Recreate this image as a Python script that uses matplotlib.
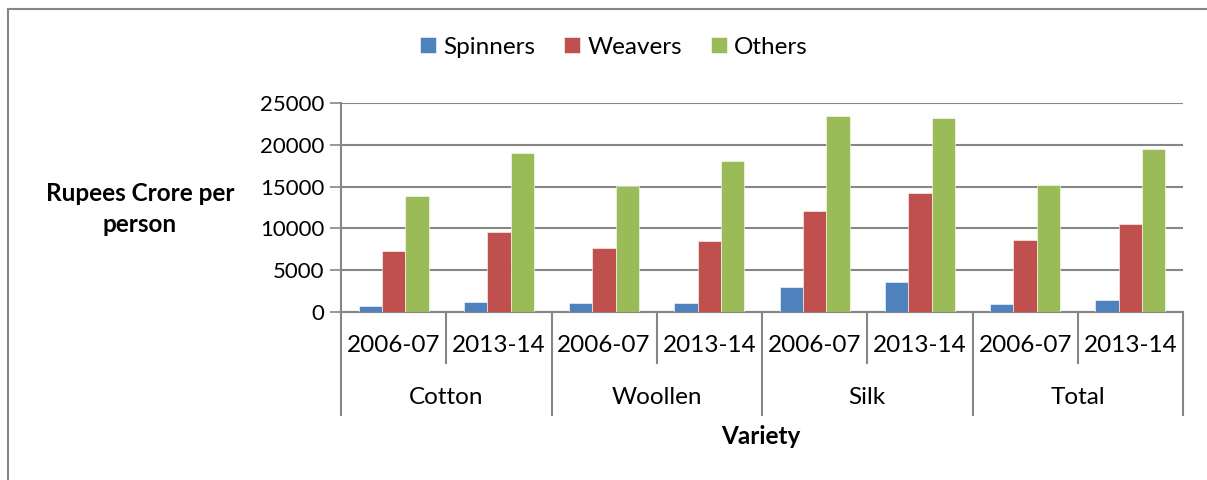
import matplotlib.pyplot as plt
import numpy as np

plt.rcParams['font.family'] = ['Lato', 'DejaVu Sans']

varieties = ['Cotton', 'Woollen', 'Silk', 'Total']
years = ['2006-07', '2013-14']
spinners = [720, 1240, 1040, 1040, 2960, 3560, 960, 1400]
weavers = [7320, 9560, 7640, 8520, 12120, 14240, 8640, 10520]
others = [13920, 19000, 15120, 18120, 23400, 23240, 15240, 19520]
series = [('Spinners', spinners, '#4F81BD'),
          ('Weavers', weavers, '#C0504D'),
          ('Others', others, '#9BBB59')]

fig = plt.figure(figsize=(12.07, 4.8), dpi=100)
ax = fig.add_axes([341 / 1207, 1 - 312 / 480, 842 / 1207, 209 / 480])

n = len(spinners)
x = np.arange(n)
w = 1 / 4.5
for i, (name, vals, col) in enumerate(series):
    ax.bar(x + (i - 1) * w, vals, w, color=col, label=name, zorder=3,
           edgecolor='white', linewidth=0.4)

ax.set_xlim(-0.5, n - 0.5)
ax.set_ylim(0, 25000)
ax.set_yticks(range(0, 25001, 5000))
ax.tick_params(axis='y', labelsize=16, length=8, width=1.2, color='#868686', pad=4)
ax.set_xticks([])
ax.yaxis.grid(True, color='#868686', linewidth=1.5, zorder=0)
for s in ['top', 'right']:
    ax.spines[s].set_visible(False)
ax.spines['left'].set_color('#868686')
ax.spines['left'].set_linewidth(1.5)
ax.spines['bottom'].set_color('#868686')
ax.spines['bottom'].set_linewidth(1.5)

# two-level category axis
trans = ax.get_xaxis_transform()
px = 1 / 209
for k in range(n + 1):
    bottom = -(415 - 312) * px if k % 2 == 0 else -(363 - 312) * px
    ax.plot([k - 0.5, k - 0.5], [0, bottom], transform=trans, color='#868686',
            lw=1.5, clip_on=False)
for k in range(n):
    ax.text(k, -(346 - 312) * px, years[k % 2], transform=trans, ha='center',
            va='center', fontsize=17.5)
for g, name in enumerate(varieties):
    ax.text(2 * g + 0.5, -(398 - 312) * px, name, transform=trans, ha='center',
            va='center', fontsize=17.5)

fig.text(761 / 1207, 1 - 437 / 480, 'Variety', ha='center', va='center',
         fontsize=17.5, fontweight='bold')
fig.text(140 / 1207, 1 - 209 / 480, 'Rupees Crore per\nperson', ha='center',
         va='center', fontsize=17.5, fontweight='bold', linespacing=1.4)

fig.legend(loc='center', bbox_to_anchor=(614 / 1207, 1 - 47 / 480), ncol=3,
           frameon=False, fontsize=17.5, handlelength=0.65, handleheight=0.65,
           handletextpad=0.3, columnspacing=1.2)

# chart border (top and left visible)
fig.add_artist(plt.Line2D([8 / 1207, 8 / 1207], [0, 1 - 9 / 480],
                          transform=fig.transFigure, color='#868686', lw=1.5))
fig.add_artist(plt.Line2D([8 / 1207, 1], [1 - 9 / 480, 1 - 9 / 480],
                          transform=fig.transFigure, color='#868686', lw=1.5))

fig.savefig('out.png', dpi=100)
